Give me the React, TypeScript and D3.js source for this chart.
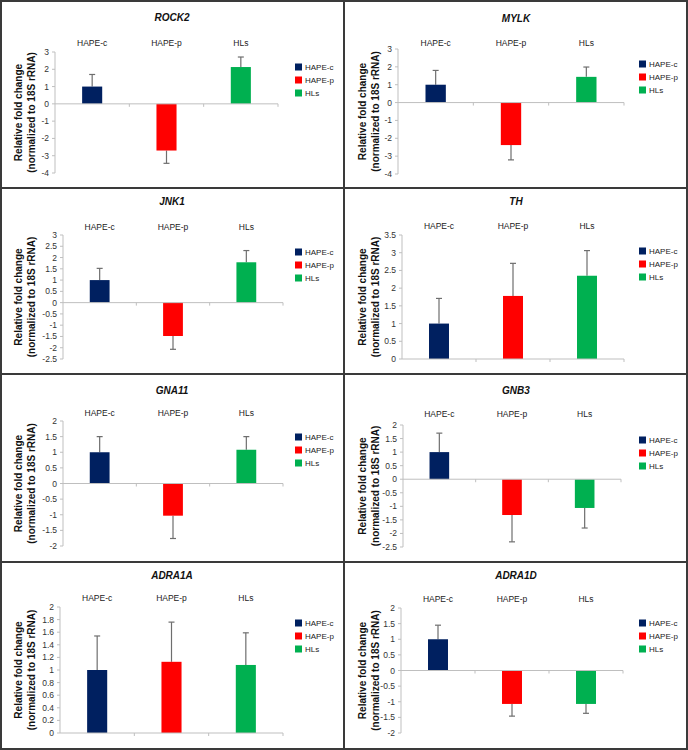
import React from "react";
import * as d3 from "d3";

const groups = ["HAPE-c", "HAPE-p", "HLs"];
const groupColors = ["#002060", "#FF0000", "#00B050"];
const genes = ["ROCK2", "MYLK", "JNK1", "TH", "GNA11", "GNB3", "ADRA1A", "ADRA1D"];

const rock2Mean = [1, -2.7, 2.13];
const rock2Err = [0.7, 0.74, 0.58];
const mylkMean = [1, -2.38, 1.44];
const mylkErr = [0.8, 0.83, 0.55];
const jnk1Mean = [1, -1.48, 1.79];
const jnk1Err = [0.52, 0.59, 0.52];
const thMean = [1, 1.78, 2.35];
const thErr = [0.71, 0.92, 0.71];
const gna11Mean = [1, -1.03, 1.08];
const gna11Err = [0.5, 0.73, 0.42];
const gnb3Mean = [1, -1.32, -1.06];
const gnb3Err = [0.7, 0.99, 0.74];
const adra1aMean = [1, 1.13, 1.08];
const adra1aErr = [0.54, 0.63, 0.51];
const adra1dMean = [1, -1.07, -1.07];
const adra1dErr = [0.45, 0.39, 0.3];

const means = [rock2Mean, mylkMean, jnk1Mean, thMean, gna11Mean, gnb3Mean, adra1aMean, adra1dMean];
const errs = [rock2Err, mylkErr, jnk1Err, thErr, gna11Err, gnb3Err, adra1aErr, adra1dErr];

const axisMin = [-4, -4, -2.5, 0, -2, -2.5, 0, -2];
const axisMax = [3, 3, 3, 3.5, 2, 2, 2, 2];
const axisStep = [1, 1, 0.5, 0.5, 0.5, 0.5, 0.2, 0.5];

// layout (pixel positions), separate from data
const layout = [
  { left: 0, titleY: 17, catY: 43, top: 52, bottom: 173, axisX: 55, endX: 278, legY: 67 },
  { left: 344, titleY: 18, catY: 43, top: 49, bottom: 174, axisX: 398, endX: 624, legY: 64 },
  { left: 0, titleY: 201, catY: 227, top: 235, bottom: 359, axisX: 63, endX: 283, legY: 252 },
  { left: 344, titleY: 201, catY: 226, top: 235, bottom: 359, axisX: 402, endX: 624, legY: 251 },
  { left: 0, titleY: 390, catY: 413, top: 421, bottom: 546, axisX: 63, endX: 283, legY: 437 },
  { left: 344, titleY: 390, catY: 414, top: 425, bottom: 547, axisX: 403, endX: 621, legY: 440 },
  { left: 0, titleY: 575, catY: 598, top: 607, bottom: 733, axisX: 60, endX: 283, legY: 623 },
  { left: 344, titleY: 575, catY: 599, top: 608, bottom: 733, axisX: 401, endX: 623, legY: 623 },
];

const FONT = "'Liberation Sans', Arial, Helvetica, sans-serif";
const AXIS_COLOR = "#bfbfbf";

function fmt(v: number, step: number) {
  const dec = step < 1 ? 1 : 0;
  const n = +v.toFixed(dec);
  return String(n === 0 ? 0 : n);
}

function Panel({ i }: { i: number }) {
  const L = layout[i];
  const y = d3.scaleLinear().domain([axisMin[i], axisMax[i]]).range([L.bottom, L.top]);
  const x = d3
    .scaleBand<string>()
    .domain(groups)
    .range([L.axisX, L.endX])
    .paddingInner(0.73)
    .paddingOuter(0.365);
  const step = (L.endX - L.axisX) / groups.length;
  const ticks = d3
    .range(axisMin[i], axisMax[i] + axisStep[i] / 2, axisStep[i])
    .map((v) => +v.toFixed(4));
  const y0 = y(0);
  const midY = (L.top + L.bottom) / 2;
  const cx = L.left + 172;
  return (
    <g>
      <text
        x={cx}
        y={L.titleY}
        textAnchor="middle"
        dominantBaseline="central"
        fontFamily={FONT}
        fontWeight="bold"
        fontStyle="italic"
        fontSize={10}
        fill="#111"
      >
        {genes[i]}
      </text>
      {groups.map((g) => (
        <text
          key={g}
          x={(x(g) as number) + x.bandwidth() / 2}
          y={L.catY}
          textAnchor="middle"
          dominantBaseline="central"
          fontFamily={FONT}
          fontSize={8.5}
          fill="#222"
        >
          {g}
        </text>
      ))}
      {/* y axis title */}
      <g transform={`translate(${L.left + 18},${midY}) rotate(-90)`}>
        <text
          textAnchor="middle"
          dominantBaseline="central"
          fontFamily={FONT}
          fontWeight="bold"
          fontSize={10}
          fill="#111"
        >
          Relative fold change
        </text>
      </g>
      <g transform={`translate(${L.left + 31},${midY}) rotate(-90)`}>
        <text
          textAnchor="middle"
          dominantBaseline="central"
          fontFamily={FONT}
          fontWeight="bold"
          fontSize={10}
          fill="#111"
        >
          (normalized to 18S rRNA)
        </text>
      </g>
      {/* y axis */}
      <line x1={L.axisX} x2={L.axisX} y1={L.top} y2={L.bottom} stroke={AXIS_COLOR} strokeWidth={1} />
      {ticks.map((t) => (
        <g key={t}>
          <line x1={L.axisX - 3} x2={L.axisX} y1={y(t)} y2={y(t)} stroke={AXIS_COLOR} strokeWidth={1} />
          <text
            x={L.axisX - 6}
            y={y(t)}
            textAnchor="end"
            dominantBaseline="central"
            fontFamily={FONT}
            fontSize={8.5}
            fill="#333"
          >
            {fmt(t, axisStep[i])}
          </text>
        </g>
      ))}
      {/* bars */}
      {groups.map((g, k) => {
        const v = means[i][k];
        const e = errs[i][k];
        const bx = x(g) as number;
        const bw = x.bandwidth();
        const yt = Math.min(y(v), y0);
        const h = Math.abs(y(v) - y0);
        const ee = v >= 0 ? v + e : v - e;
        const ecx = bx + bw / 2;
        return (
          <g key={g}>
            <line x1={ecx} x2={ecx} y1={y(v)} y2={y(ee)} stroke="#6e6e6e" strokeWidth={1.2} />
            <line x1={ecx - 3} x2={ecx + 3} y1={y(ee)} y2={y(ee)} stroke="#6e6e6e" strokeWidth={1.2} />
            <rect x={bx} y={yt} width={bw} height={h} fill={groupColors[k]} />
          </g>
        );
      })}
      {/* zero line / category axis */}
      <line x1={L.axisX} x2={L.endX} y1={y0} y2={y0} stroke={AXIS_COLOR} strokeWidth={1} />
      {groups.map((g, k) => (
        <line
          key={g}
          x1={L.axisX + step * (k + 1)}
          x2={L.axisX + step * (k + 1)}
          y1={y0}
          y2={y0 + 3}
          stroke={AXIS_COLOR}
          strokeWidth={1}
        />
      ))}
      {/* legend */}
      {groups.map((g, k) => (
        <g key={g}>
          <rect x={L.left + 295} y={L.legY + k * 13 - 3.5} width={7} height={7} fill={groupColors[k]} />
          <text
            x={L.left + 305}
            y={L.legY + k * 13}
            dominantBaseline="central"
            fontFamily={FONT}
            fontSize={8}
            fill="#222"
          >
            {g}
          </text>
        </g>
      ))}
    </g>
  );
}

export default function App() {
  return (
    <svg
      width={688}
      height={750}
      style={{ position: "absolute", left: 0, top: 0, background: "#fff" }}
    >
      <rect x={0} y={0} width={688} height={750} fill="#fff" />
      {genes.map((_, i) => (
        <Panel key={i} i={i} />
      ))}
      <rect x={1} y={1} width={686} height={748} fill="none" stroke="#3a3a3a" strokeWidth={2} />
      <line x1={344} x2={344} y1={0} y2={750} stroke="#3a3a3a" strokeWidth={2} />
      <line x1={0} x2={688} y1={188} y2={188} stroke="#3a3a3a" strokeWidth={2} />
      <line x1={0} x2={688} y1={374} y2={374} stroke="#3a3a3a" strokeWidth={2} />
      <line x1={0} x2={688} y1={562} y2={562} stroke="#3a3a3a" strokeWidth={2} />
    </svg>
  );
}
